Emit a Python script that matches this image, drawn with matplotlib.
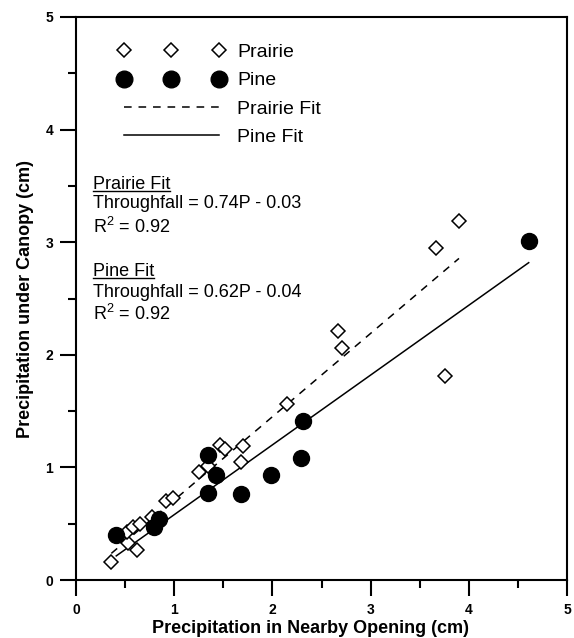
import numpy as np
import matplotlib.pyplot as plt
from matplotlib.lines import Line2D

plt.rcParams['font.family'] = ['Liberation Sans', 'DejaVu Sans']
plt.rcParams['mathtext.fontset'] = 'custom'
plt.rcParams['mathtext.rm'] = 'Liberation Sans'
plt.rcParams['mathtext.it'] = 'Liberation Sans:italic'

# Precipitation in opening (x) vs under canopy (y), cm
prairie_x = [0.36, 0.53, 0.62, 0.52, 0.58, 0.65, 0.77, 0.92, 0.99, 1.25, 1.34,
             1.47, 1.52, 1.68, 1.70, 2.15, 2.67, 2.71, 3.67, 3.76, 3.90]
prairie_y = [0.16, 0.33, 0.27, 0.43, 0.47, 0.50, 0.56, 0.70, 0.73, 0.96, 1.01,
             1.20, 1.16, 1.05, 1.19, 1.56, 2.21, 2.06, 2.95, 1.81, 3.19]

pine_x = [0.41, 0.79, 0.85, 1.34, 1.43, 1.34, 1.68, 1.99, 2.29, 2.31, 4.61]
pine_y = [0.40, 0.47, 0.54, 1.11, 0.93, 0.77, 0.76, 0.93, 1.08, 1.41, 3.01]

# fit coefficients (slope, intercept)
prairie_fit = (0.74, -0.03)
pine_fit = (0.62, -0.04)
r2_prairie = 0.92
r2_pine = 0.92

fig = plt.figure(figsize=(5.74, 6.38), dpi=100)
ax = fig.add_axes([76 / 574, 1 - 580 / 638, 491 / 574, 563 / 638])

px = np.array([min(prairie_x), max(prairie_x)])
qx = np.array([min(pine_x), max(pine_x)])
ax.plot(px, prairie_fit[0] * px + prairie_fit[1], color='black', lw=1.1,
        ls=(0, (5, 4.5)), zorder=2)
ax.plot(qx, pine_fit[0] * qx + pine_fit[1], color='black', lw=1.1, zorder=2)

ax.plot(prairie_x, prairie_y, ls='none', marker='D', ms=7.5, mfc='white',
        mec='black', mew=1.1, zorder=3)
ax.plot(pine_x, pine_y, ls='none', marker='o', ms=11.5, color='black', zorder=4)

handles = [
    Line2D([], [], ls='none', marker='D', ms=7.5, mfc='white', mec='black', mew=1.1),
    Line2D([], [], ls='none', marker='o', ms=12, color='black'),
    Line2D([], [], color='black', lw=1.1, ls=(0, (5, 4.5))),
    Line2D([], [], color='black', lw=1.1),
]
ax.legend(handles, ['Prairie', 'Pine', 'Prairie Fit', 'Pine Fit'], numpoints=3,
          frameon=False, loc='upper left', bbox_to_anchor=(0.085, 0.953),
          handlelength=5.5, handletextpad=0.65, labelspacing=0.55,
          borderpad=0, borderaxespad=0, fontsize=14)

ax.set_xlim(0, 5)
ax.set_ylim(0, 5)
ax.set_xticks(np.arange(0, 6, 1))
ax.set_yticks(np.arange(0, 6, 1))
ax.set_xticks(np.arange(0.5, 5, 1), minor=True)
ax.set_yticks(np.arange(0.5, 5, 1), minor=True)
ax.tick_params(which='major', direction='out', length=11.5, width=1.5,
               labelsize=10, pad=5)
ax.tick_params(which='minor', direction='out', length=6, width=1.5)
for lab in ax.get_xticklabels() + ax.get_yticklabels():
    lab.set_fontweight('bold')
for s in ax.spines.values():
    s.set_linewidth(1.5)

ax.set_xlabel('Precipitation in Nearby Opening (cm)', fontsize=13,
              fontweight='bold', x=0.477, labelpad=2)
ax.set_ylabel('Precipitation under Canopy (cm)', fontsize=13,
              fontweight='bold', labelpad=8)

tx = 0.034
titles = []
titles.append(ax.text(tx, 0.702, 'Prairie Fit', transform=ax.transAxes,
                      fontsize=13, va='center'))
ax.text(tx, 0.668, f'Throughfall = {prairie_fit[0]:.2f}P - {abs(prairie_fit[1]):.2f}',
        transform=ax.transAxes, fontsize=13, va='center')
ax.text(tx, 0.627, f'R$^2$ = {r2_prairie:.2f}', transform=ax.transAxes,
        fontsize=13, va='center')
titles.append(ax.text(tx, 0.548, 'Pine Fit', transform=ax.transAxes,
                      fontsize=13, va='center'))
ax.text(tx, 0.511, f'Throughfall = {pine_fit[0]:.2f}P - {abs(pine_fit[1]):.2f}',
        transform=ax.transAxes, fontsize=13, va='center')
ax.text(tx, 0.472, f'R$^2$ = {r2_pine:.2f}', transform=ax.transAxes,
        fontsize=13, va='center')

# underline the fit headings
fig.canvas.draw()
inv = fig.transFigure.inverted()
for t in titles:
    bb = t.get_window_extent()
    (x0, y0), (x1, _) = inv.transform([(bb.x0, bb.y0 + 2), (bb.x1, bb.y0 + 2)])
    fig.add_artist(Line2D([x0, x1], [y0, y0], color='black', lw=1.0))

fig.savefig('out.png', dpi=100)
